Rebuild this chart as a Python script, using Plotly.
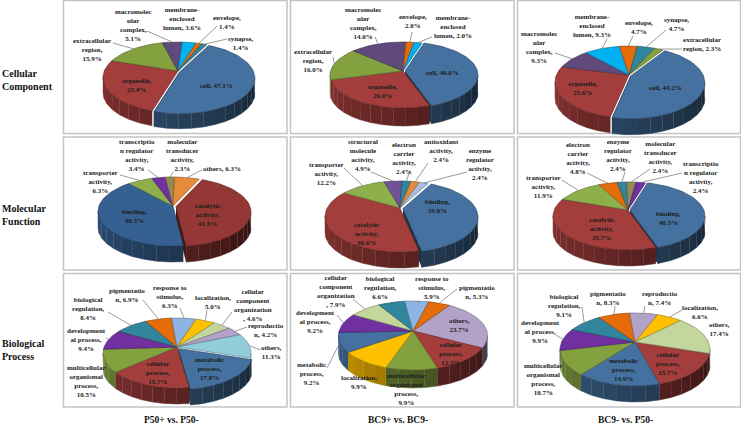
import math
import plotly.graph_objects as go

# ---------- data ----------
CC_P50_labels = ["cell, ", "organelle,<br>", "extracellular<br>region,<br>", "macromolec<br>ular<br>complex,<br>",
                 "membrane-<br>enclosed<br>lumen, ", "envelope,<br>", "synapse,<br>"]
CC_P50_values = [47.1, 25.4, 15.9, 5.1, 3.6, 1.4, 1.4]
CC_BC9_labels = ["cell, ", "organelle,<br>", "extracellular<br>region,<br>", "macromolec<br>ular<br>complex,<br>",
                 "envelope,<br>", "membrane-<br>enclosed<br>lumen, "]
CC_BC9_values = [40.0, 26.0, 16.0, 14.0, 2.0, 2.0]
CC_BP_labels = ["cell, ", "organelle,<br>", "macromolec<br>ular<br>complex,<br>", "membrane-<br>enclosed<br>lumen, ",
                "envelope,<br>", "synapse,<br>", "extracellular<br>region, "]
CC_BP_values = [44.2, 25.6, 9.3, 9.3, 4.7, 4.7, 2.3]

MF_P50_labels = ["catalytic<br>activity,<br>", "binding,<br>", "transporter<br>activity,<br>",
                 "transcriptio<br>n regulator<br>activity,<br>", "molecular<br>transducer<br>activity,<br>", "others, "]
MF_P50_values = [41.5, 40.3, 6.3, 3.4, 2.3, 6.3]
MF_BC9_labels = ["binding,<br>", "catalytic<br>activity,<br>", "transporter<br>activity,<br>",
                 "structural<br>molecule<br>activity,<br>", "electron<br>carrier<br>activity,<br>",
                 "antioxidant<br>activity,<br>", "enzyme<br>regulator<br>activity,<br>"]
MF_BC9_values = [39.0, 36.6, 12.2, 4.9, 2.4, 2.4, 2.4]
MF_BP_labels = ["binding,<br>", "catalytic<br>activity,<br>", "transporter<br>activity,<br>",
                "electron<br>carrier<br>activity,<br>", "enzyme<br>regulator<br>activity,<br>",
                "molecular<br>transducer<br>activity,<br>", "transcriptio<br>n regulator<br>activity,<br>"]
MF_BP_values = [40.5, 35.7, 11.9, 4.8, 2.4, 2.4, 2.4]

BP_P50_labels = ["metabolic<br>process,<br>", "cellular<br>process,<br>", "multicellular<br>organismal<br>process,<br>",
                 "development<br>al process,<br>", "biological<br>regulation,<br>", "pigmentatio<br>n, ",
                 "response to<br>stimulus,<br>", "localization,<br>", "cellular<br>component<br>organization<br>, ",
                 "reproductio<br>n, ", "others,<br>"]
BP_P50_values = [17.8, 15.7, 10.5, 9.4, 8.4, 6.9, 6.3, 5.0, 4.6, 4.2, 11.3]
BP_BC9_labels = ["others,<br>", "cellular<br>process,<br>", "multicellular<br>organismal<br>process,<br>",
                 "localization,<br>", "metabolic<br>process,<br>", "development<br>al process,<br>",
                 "cellular<br>component<br>organization<br>, ", "biological<br>regulation,<br>",
                 "response to<br>stimulus,<br>", "pigmentatio<br>n, "]
BP_BC9_values = [23.7, 12.5, 9.9, 9.9, 9.2, 9.2, 7.9, 6.6, 5.9, 5.3]
BP_BP_labels = ["cellular<br>process,<br>", "metabolic<br>process,<br>", "multicellular<br>organismal<br>process,<br>",
                "development<br>al process,<br>", "biological<br>regulation,<br>", "pigmentatio<br>n, ",
                "reproductio<br>n, ", "localization,<br>", "others,<br>"]
BP_BP_values = [15.7, 14.9, 10.7, 9.9, 9.1, 8.3, 7.4, 6.6, 17.4]

row_titles = ["Cellular<br>Component", "Molecular<br>Function", "Biological<br>Process"]
col_titles = ["P50+ vs. P50-", "BC9+ vs. BC9-", "BC9- vs. P50-"]

# ---------- colours ----------
BLUE, RED, GREEN, SLATE = "#44719f", "#a33e3c", "#84a140", "#604a7b"
CYAN, ORANGE, TEAL, VIOLET = "#00b0f0", "#e46c0a", "#31859c", "#7030a0"
TAN, LORANGE, LBLUE, GOLD = "#948a54", "#e58b3a", "#8eb4e3", "#ffc000"
LGREEN, LILAC, LTEAL, PERI = "#c3d69b", "#b3a2c7", "#92cddc", "#a9bcdc"
DBLUE, DRED, LIME, PURP = "#376092", "#953735", "#8db04a", "#6f5397"

# ---------- layout of each pie: apex x,y, half width, radius above / below apex, wall depth,
#            start angle, explosion of first slice, label centres, leader starts ----------
PANELS = [
    dict(labels=CC_P50_labels, values=CC_P50_values, colors=[BLUE, RED, GREEN, SLATE, CYAN, ORANGE, TEAL],
         geo=(178, 71, 75, 29, 42, 15, 27, 2),
         pos=[(216, 86), (137, 85), (92, 50), (133, 25), (182, 19), (227, 22), (240, 43)],
         lead=[None, None, (113, 43), (147, 31), None, (217, 26), (227, 39)]),
    dict(labels=CC_BC9_labels, values=CC_BC9_values, colors=[BLUE, RED, GREEN, SLATE, ORANGE, CYAN],
         geo=(403, 71, 73, 29, 37, 18, 17, 2),
         pos=[(442, 73), (383, 91), (313, 61), (363, 23), (413, 21), (453, 27)],
         lead=[None, None, (333, 57), (375, 37), (412, 32), (432, 37)]),
    dict(labels=CC_BP_labels, values=CC_BP_values, colors=[BLUE, RED, SLATE, CYAN, ORANGE, TEAL, GREEN],
         geo=(629, 75, 74, 29, 43, 16, 33, 2),
         pos=[(665, 88), (583, 88), (539, 47), (592, 26), (639, 27), (676, 24), (702, 44)],
         lead=[None, None, (555, 53), (607, 39), (633, 36), (666, 30), (682, 49)]),
    dict(labels=MF_P50_labels, values=MF_P50_values, colors=[DRED, DBLUE, LIME, VIOLET, TAN, LORANGE],
         geo=(173, 206, 75, 29, 40, 16, 24, 3),
         pos=[(207, 215), (134, 216), (100, 182), (137, 155), (182, 155), (222, 169)],
         lead=[None, None, (120, 175), (148, 170), (173, 172), (202, 170)]),
    dict(labels=MF_BC9_labels, values=MF_BC9_values, colors=[BLUE, RED, LIME, PURP, TEAL, LORANGE, PERI],
         geo=(400, 208, 75, 27, 44, 16, 28, 3),
         pos=[(437, 206), (366, 234), (326, 174), (363, 155), (404, 158), (441, 151), (480, 164)],
         lead=[None, None, (344, 168), (371, 172), (409, 173), (428, 163), (467, 172)]),
    dict(labels=MF_BP_labels, values=MF_BP_values, colors=[BLUE, RED, LIME, ORANGE, TEAL, TAN, VIOLET],
         geo=(628, 210, 75, 28, 40, 16, 16, 2),
         pos=[(668, 218), (601, 229), (543, 187), (578, 158), (618, 155), (660, 157), (701, 177)],
         lead=[None, None, (562, 180), (587, 173), (625, 172), (650, 169), (682, 173)]),
    dict(labels=BP_P50_labels, values=BP_P50_values,
         colors=[BLUE, RED, GREEN, VIOLET, TEAL, ORANGE, LBLUE, GOLD, LGREEN, LILAC, LTEAL],
         geo=(177, 347, 74, 29, 41, 16, 108, 2),
         pos=[(209, 369), (158, 373), (86, 381), (86, 340), (88, 309), (127, 295), (170, 297), (213, 302),
              (253, 305), (266, 330), (271, 352)],
         lead=[None, None, None, (106, 338), (108, 312), (143, 300), (180, 308), (207, 310), (232, 312),
               (247, 327), (260, 350)]),
    dict(labels=BP_BC9_labels, values=BP_BC9_values,
         colors=[LILAC, RED, GREEN, GOLD, BLUE, VIOLET, LGREEN, TEAL, LBLUE, ORANGE],
         geo=(413, 331, 74.5, 30, 39, 18, 33, 0),
         pos=[(459, 325), (451, 354), (406, 389), (359, 382), (311, 374), (315, 322), (336, 291), (380, 288),
              (432, 288), (477, 292)],
         lead=[None, None, None, None, (327, 368), (337, 315), (353, 299), (392, 302), (420, 303), (457, 289)]),
    dict(labels=BP_BP_labels, values=BP_BP_values,
         colors=[RED, BLUE, GREEN, VIOLET, TEAL, ORANGE, LILAC, GOLD, LGREEN],
         geo=(635, 342, 75, 29, 44, 16, 108, 0),
         pos=[(668, 364), (623, 370), (543, 379), (540, 332), (564, 306), (608, 298), (660, 298), (700, 312),
              (719, 329)],
         lead=[None, None, None, (556, 335), (582, 307), (615, 306), (645, 306), (682, 310), None]),
]
BOX_X = [(63.5, 287), (290.5, 514), (517.5, 740.5)]
BOX_Y = [(0.5, 133.5), (137, 270), (273.5, 407)]
ROW_POS = [(0, 80), (0, 215), (0, 350)]
COL_POS = [(171, 419.5), (398, 419.5), (625, 419.5)]
TEXT_FONT = "Liberation Serif, Times New Roman, serif"
TEXT_COLOR = "#1c1c1c"


def shade(hex_color, f):
    r, g, b = (int(hex_color[i:i + 2], 16) for i in (1, 3, 5))
    return f"rgb({int(r * f)},{int(g * f)},{int(b * f)})"


fig = go.Figure()
shapes = []
annotations = []

for bx in BOX_X:
    for by in BOX_Y:
        shapes.append(dict(type="rect", xref="x", yref="y", x0=bx[0], x1=bx[1], y0=by[0], y1=by[1],
                           line=dict(color="#c4c4c4", width=1.5), fillcolor="white", layer="below"))


def poly(xs, ys, color, width=0.4, line_color=None):
    fig.add_trace(go.Scatter(x=xs, y=ys, mode="lines", fill="toself", fillcolor=color,
                             line=dict(color=line_color or color, width=width),
                             hoverinfo="skip", showlegend=False))


for p in PANELS:
    ax_, ay_, rx, ru, rd, depth, start, explode = p["geo"]
    ry = (ru + rd) / 2
    cy = ay_ + (rd - ru) / 2
    e = (rd - ru) / (rd + ru)

    def rim(theta, ox=0.0, oy=0.0):
        """Perspective view of a round pie: angle on the pie -> point on the drawn ellipse."""
        t = math.radians(theta)
        d = 1 + e * math.cos(t)
        cphi = (math.cos(t) + e) / d
        sphi = math.sqrt(1 - e * e) * math.sin(t) / d
        return ax_ + rx * sphi + ox, cy - ry * cphi + oy

    total = sum(p["values"])
    th90 = math.degrees(math.acos(-e))
    th270 = 360 - th90
    tops, mids = [], []
    a = start
    for i, v in enumerate(p["values"]):
        span = v / total * 360
        s, t_end = a, a + span
        a = t_end
        mid = (s + t_end) / 2
        ox = oy = 0.0
        if i == 0 and explode:
            ox = explode * math.sin(math.radians(mid))
            oy = -explode * math.cos(math.radians(mid))
        mids.append((mid, ox, oy))
        color = p["colors"][i]
        if i == 0 and explode:
            ex, ey = rim(t_end, ox, oy)
            poly([ax_ + ox, ex, ex, ax_ + ox], [ay_ + oy, ey, ey + depth, ay_ + oy + depth],
                 shade(color, 0.45))
        for off in (0, 360):
            w0 = max(s, th90 + off)
            w1 = min(t_end, th270 + off)
            if w1 <= w0:
                continue
            n = max(1, int((w1 - w0) / 8))
            for k in range(n):
                b0 = w0 + (w1 - w0) * k / n
                b1 = w0 + (w1 - w0) * (k + 1) / n
                steps = [b0 + (b1 - b0) * j / 4 for j in range(5)]
                pts = [rim(q, ox, oy) for q in steps]
                xs = [q[0] for q in pts] + [q[0] for q in reversed(pts)]
                ys = [q[1] for q in pts] + [q[1] + depth for q in reversed(pts)]
                frac = ((b0 + b1) / 2 - off - th90) / (th270 - th90)
                poly(xs, ys, shade(color, 0.32 + 0.5 * frac), width=0.5)
        n = max(4, int(span / 3))
        arc = [rim(s + span * j / n, ox, oy) for j in range(n + 1)]
        tops.append(([ax_ + ox] + [q[0] for q in arc] + [ax_ + ox],
                     [ay_ + oy] + [q[1] for q in arc] + [ay_ + oy], color))
    for xs, ys, color in tops:
        poly(xs, ys, color, width=0.6, line_color=shade(color, 0.6))

    for i, v in enumerate(p["values"]):
        annotations.append(dict(x=p["pos"][i][0], y=p["pos"][i][1], xref="x", yref="y", showarrow=False,
                                xanchor="center", yanchor="middle", align="center",
                                text=f"<b>{p['labels'][i]}{v:.1f}%</b>",
                                font=dict(family=TEXT_FONT, size=7, color=TEXT_COLOR)))
        st = p["lead"][i]
        if st:
            ex, ey = rim(mids[i][0], mids[i][1], mids[i][2])
            shapes.append(dict(type="line", xref="x", yref="y", x0=st[0], y0=st[1], x1=ex, y1=ey,
                               line=dict(color="#6e6e6e", width=0.7), layer="above"))

for (x, y), t in zip(ROW_POS, row_titles):
    annotations.append(dict(x=x, y=y, xref="x", yref="y", showarrow=False, xanchor="left", yanchor="middle",
                            align="left", text=f"<b>{t}</b>",
                            font=dict(family=TEXT_FONT, size=10, color="#111111")))
for (x, y), t in zip(COL_POS, col_titles):
    annotations.append(dict(x=x, y=y, xref="x", yref="y", showarrow=False, xanchor="center", yanchor="middle",
                            text=f"<b>{t}</b>", font=dict(family=TEXT_FONT, size=9.5, color="#111111")))

fig.update_layout(
    width=741, height=426, margin=dict(l=0, r=0, t=0, b=0),
    paper_bgcolor="white", plot_bgcolor="white", showlegend=False,
    xaxis=dict(range=[0, 741], visible=False, fixedrange=True),
    yaxis=dict(range=[426, 0], visible=False, fixedrange=True),
    shapes=shapes, annotations=annotations,
)
fig.write_html("out.html", post_script="document.body.style.margin='0';document.body.style.overflow='hidden';",
               config={"displayModeBar": False})
